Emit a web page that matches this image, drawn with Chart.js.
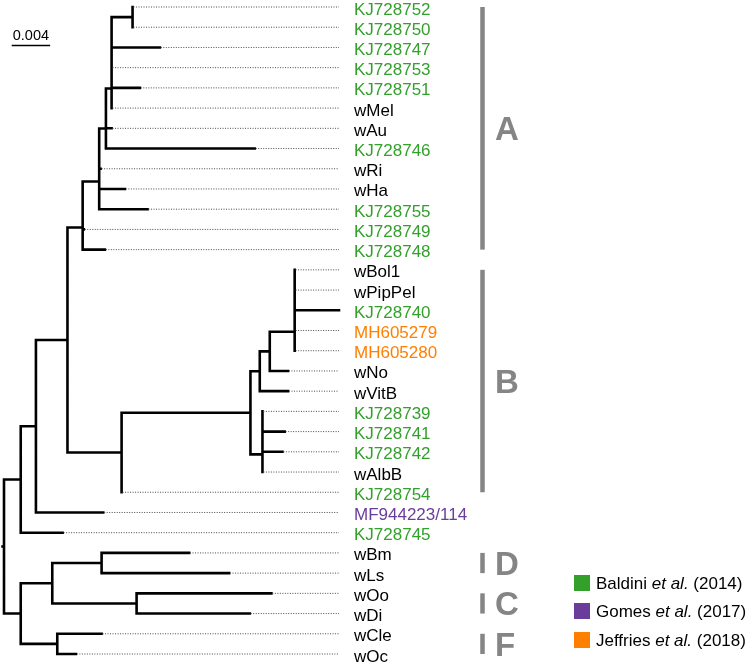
<!DOCTYPE html>
<html>
<head>
<meta charset="utf-8">
<title>Wolbachia tree</title>
<script src="https://cdn.jsdelivr.net/npm/chart.js@4.4.1/dist/chart.umd.min.js"></script>
<style>
    html, body { margin: 0; padding: 0; background: #fff; }
    #wrap { width: 750px; height: 663px; }
</style>
</head>
<body>
<div id="wrap"><canvas id="tree" width="750" height="663"></canvas></div>
<script>
// Tips, top to bottom, with distance from the root (substitutions/site)
const tipNames = [
    'KJ728752', 'KJ728750', 'KJ728747', 'KJ728753', 'KJ728751', 'wMel', 'wAu',
    'KJ728746', 'wRi', 'wHa', 'KJ728755', 'KJ728749', 'KJ728748',
    'wBol1', 'wPipPel', 'KJ728740', 'MH605279', 'MH605280', 'wNo', 'wVitB',
    'KJ728739', 'KJ728741', 'KJ728742', 'wAlbB', 'KJ728754',
    'MF944223/114', 'KJ728745',
    'wBm', 'wLs', 'wOo', 'wDi', 'wCle', 'wOc'
];
const tipDepth = [
    0.01337, 0.01337, 0.01621, 0.01119, 0.01413, 0.01119, 0.01119,
    0.02608, 0.01005, 0.01257, 0.01493, 0.0083, 0.01049,
    0.03023, 0.03023, 0.03484, 0.03023, 0.03023, 0.02954, 0.02954,
    0.02688, 0.02919, 0.02896, 0.02688, 0.01223,
    0.01032, 0.0061,
    0.01925, 0.02341, 0.02781, 0.02556, 0.01015, 0.00748
];
// -1 = no source colour, otherwise index into the source lists
const tipSource = [
    0, 0, 0, 0, 0, -1, -1,
    0, -1, -1, 0, 0, 0,
    -1, -1, 0, 2, 2, -1, -1,
    0, 0, 0, -1, 0,
    1, 0,
    -1, -1, -1, -1, -1, -1
];

// Internal nodes
const nodeNames = [
    'root', 'N1', 'N2', 'N3', 'NA', 'NA1', 'P2', 'P1', 'RiHa', 'Q', 'Q1',
    'n5', 'n4', 'n3', 'n2', 'n1',
    'B', 'Bsub', 'B1', 'B2', 'B3', 'B3c', 'B3b', 'B3a', 'B4', 'B4b', 'B4a',
    'L', 'DC', 'D', 'C', 'F'
];
const nodeDepth = [
    0, 0.00174, 0.00332, 0.0066, 0.00818, 0.00818, 0.0099, 0.0099, 0.0099, 0.0106, 0.0106,
    0.01119, 0.01119, 0.01119, 0.01119, 0.01337,
    0.01223, 0.02563, 0.0266, 0.02764, 0.03023, 0.03023, 0.03023, 0.03023, 0.02688, 0.02688, 0.02688,
    0.00174, 0.00502, 0.01015, 0.01379, 0.00554
];
const nodeChildren = [
    ['N1', 'L'], ['N2', 'KJ728745'], ['N3', 'MF944223/114'], ['NA', 'B'],
    ['NA1', 'KJ728748'], ['P2', 'KJ728749'], ['P1', 'KJ728755'], ['Q', 'RiHa'],
    ['wRi', 'wHa'], ['Q1', 'KJ728746'], ['n5', 'wAu'],
    ['n4', 'wMel'], ['n3', 'KJ728751'], ['n2', 'KJ728753'], ['n1', 'KJ728747'], ['KJ728752', 'KJ728750'],
    ['Bsub', 'KJ728754'], ['B1', 'B4'], ['B2', 'wVitB'], ['B3', 'wNo'], ['B3c', 'MH605280'],
    ['B3b', 'MH605279'], ['B3a', 'KJ728740'], ['wBol1', 'wPipPel'], ['B4b', 'wAlbB'],
    ['B4a', 'KJ728742'], ['KJ728739', 'KJ728741'],
    ['DC', 'F'], ['D', 'C'], ['wBm', 'wLs'], ['wOo', 'wDi'], ['wCle', 'wOc']
];

// Clades (bars on the right)
const cladeNames = ['A', 'B', 'D', 'C', 'F'];
const cladeFirst = ['KJ728752', 'wBol1', 'wBm', 'wOo', 'wCle'];
const cladeLast = ['KJ728748', 'KJ728754', 'wLs', 'wDi', 'wOc'];

// Sources (legend)
const sourceAuthors = ['Baldini', 'Gomes', 'Jeffries'];
const sourceYears = ['2014', '2017', '2018'];
const sourceColors = ['#33a02c', '#6a3d9a', '#ff7f00'];

const scaleBarValue = 0.004;
const scaleBarStart = 0.0008;
const rootStub = 0.00015;

// ---- layout helpers ----
const yCache = {};
function isTip(name) { return tipNames.indexOf(name) >= 0; }
function yOf(name) {
    if (isTip(name)) return tipNames.indexOf(name);
    if (yCache[name] !== undefined) return yCache[name];
    const kids = nodeChildren[nodeNames.indexOf(name)];
    const y = (yOf(kids[0]) + yOf(kids[kids.length - 1])) / 2;
    yCache[name] = y;
    return y;
}
function xOf(name) {
    if (isTip(name)) return tipDepth[tipNames.indexOf(name)];
    return nodeDepth[nodeNames.indexOf(name)];
}

const xMax = Math.max(...tipDepth);

const branchPts = [];
const guidePts = [];
function seg(arr, x1, y1, x2, y2) {
    arr.push({ x: x1, y: y1 }, { x: x2, y: y2 }, { x: null, y: null });
}

nodeNames.forEach((name, i) => {
    const kids = nodeChildren[i];
    const nx = nodeDepth[i];
    seg(branchPts, nx, yOf(kids[0]), nx, yOf(kids[kids.length - 1]));
    kids.forEach(k => seg(branchPts, nx, yOf(k), xOf(k), yOf(k)));
});
seg(branchPts, -rootStub, yOf('root'), 0, yOf('root'));

tipNames.forEach((name, i) => {
    if (xMax - tipDepth[i] > 0.0002) {
        seg(guidePts, tipDepth[i] + 0.0001, i, xMax, i);
    }
});

const FONT = '"Liberation Sans", Arial, Helvetica, sans-serif';

const overlayPlugin = {
    id: 'treeOverlay',
    afterDatasetsDraw(chart) {
        const ctx = chart.ctx;
        const xs = chart.scales.x;
        const ys = chart.scales.y;
        const labelX = chart.chartArea.right + 15;

        ctx.save();

        // tip labels
        ctx.font = `17px ${FONT}`;
        ctx.textAlign = 'left';
        ctx.textBaseline = 'alphabetic';
        tipNames.forEach((name, i) => {
            const src = tipSource[i];
            ctx.fillStyle = src >= 0 ? sourceColors[src] : '#000';
            ctx.fillText(name, labelX, ys.getPixelForValue(i) + 7.5);
        });

        // clade bars + letters
        const barX = labelX + 128.5;
        cladeNames.forEach((c, i) => {
            const y1 = ys.getPixelForValue(yOf(cladeFirst[i]));
            const y2 = ys.getPixelForValue(yOf(cladeLast[i]));
            ctx.fillStyle = '#858585';
            ctx.fillRect(barX - 2.25, y1, 4.5, y2 - y1);
            ctx.font = `bold 33px ${FONT}`;
            ctx.fillText(c, barX + 12.5, (y1 + y2) / 2 + 12);
        });

        // legend
        const legX = 574;
        const legY = [583, 611, 640];
        sourceAuthors.forEach((a, i) => {
            const cy = legY[i];
            ctx.fillStyle = sourceColors[i];
            ctx.fillRect(legX, cy - 8, 16, 16);
            ctx.fillStyle = '#000';
            let tx = legX + 22;
            const by = cy + 6;
            ctx.font = `17px ${FONT}`;
            ctx.fillText(a + ' ', tx, by);
            tx += ctx.measureText(a + ' ').width;
            ctx.font = `italic 17px ${FONT}`;
            ctx.fillText('et al.', tx, by);
            tx += ctx.measureText('et al.').width;
            ctx.font = `17px ${FONT}`;
            ctx.fillText(' (' + sourceYears[i] + ')', tx, by);
        });

        // scale bar
        const sx1 = xs.getPixelForValue(scaleBarStart);
        const sx2 = xs.getPixelForValue(scaleBarStart + scaleBarValue);
        const sy = chart.chartArea.top + 38.5;
        ctx.strokeStyle = '#000';
        ctx.lineWidth = 1.3;
        ctx.beginPath();
        ctx.moveTo(sx1, sy);
        ctx.lineTo(sx2, sy);
        ctx.stroke();
        ctx.fillStyle = '#000';
        ctx.font = `14.5px ${FONT}`;
        ctx.textAlign = 'center';
        ctx.fillText(String(scaleBarValue), (sx1 + sx2) / 2, sy - 6);

        ctx.restore();
    }
};

new Chart(document.getElementById('tree'), {
    type: 'scatter',
    plugins: [overlayPlugin],
    data: {
        datasets: [
            {
                data: guidePts,
                showLine: true,
                spanGaps: false,
                borderColor: '#4a4a4a',
                borderWidth: 1,
                borderDash: [1, 1.5],
                pointRadius: 0,
                clip: false
            },
            {
                data: branchPts,
                showLine: true,
                spanGaps: false,
                borderColor: '#000',
                borderWidth: 2.6,
                borderCapStyle: 'square',
                borderJoinStyle: 'miter',
                pointRadius: 0,
                clip: false
            }
        ]
    },
    options: {
        responsive: false,
        animation: false,
        events: [],
        layout: { padding: { left: 4, right: 750 - 4 - 335, top: 7, bottom: 9 } },
        scales: {
            x: { type: 'linear', display: false, min: 0, max: xMax },
            y: { type: 'linear', display: false, min: 0, max: tipNames.length - 1, reverse: true }
        },
        plugins: {
            legend: { display: false },
            tooltip: { enabled: false }
        }
    }
});
</script>
</body>
</html>
